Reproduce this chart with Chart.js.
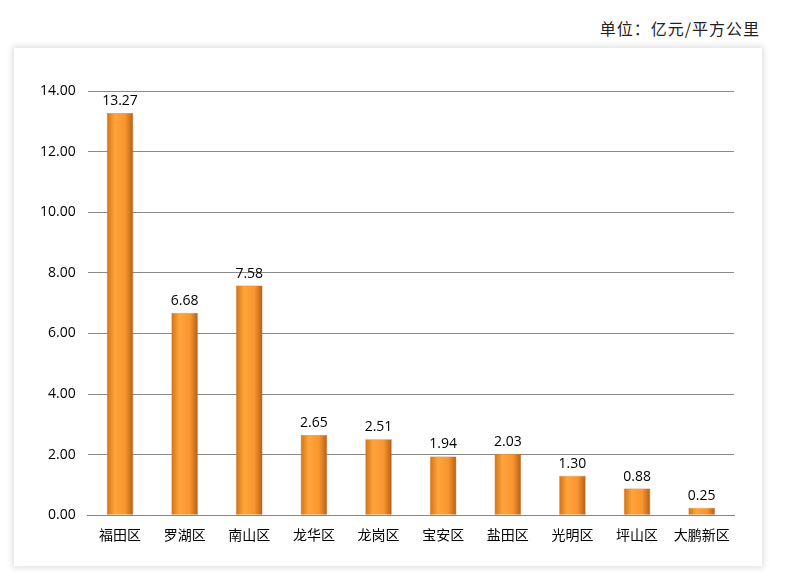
<!DOCTYPE html>
<html><head><meta charset="utf-8">
<script src="https://cdn.jsdelivr.net/npm/chart.js@4"></script>
<style>
body{margin:0;width:794px;height:579px;background:#fff;position:relative;font-family:"Noto Sans CJK SC",sans-serif}
#unit{position:absolute;right:34px;top:16px;font-size:16px;color:#222;font-family:"Noto Sans CJK SC";letter-spacing:1px}
#panel{position:absolute;left:14px;top:48px;width:748px;height:518px;background:#fff;box-shadow:0 0 6px 2px rgba(0,0,0,0.12)}
</style></head><body>
<div id="unit">单位：亿元/平方公里</div>
<div id="panel"><canvas id="c" width="748" height="518"></canvas></div>
<script>
const categories=["福田区","罗湖区","南山区","龙华区","龙岗区","宝安区","盐田区","光明区","坪山区","大鹏新区"];
const values=[13.27,6.68,7.58,2.65,2.51,1.94,2.03,1.30,0.88,0.25];
const labelPlugin={id:'lbl',afterDatasetsDraw(chart){
 const ctx=chart.ctx;const meta=chart.getDatasetMeta(0);
 ctx.save();ctx.font='14px "Open Sans", sans-serif';ctx.fillStyle='#000';ctx.textAlign='center';ctx.textBaseline='bottom';
 meta.data.forEach((b,i)=>ctx.fillText(values[i].toFixed(2),b.x,b.y-5));ctx.restore();}};
const chart=new Chart(document.getElementById('c'),{type:'bar',
 data:{labels:categories,datasets:[{data:values,backgroundColor:'#f39228',
  borderColor:'#c06a1a',borderWidth:0.5,barPercentage:0.41,categoryPercentage:1}]},
 options:{responsive:false,animation:false,
  layout:{padding:{left:14,right:28,top:43,bottom:20}},
  plugins:{legend:{display:false},tooltip:{enabled:false}},
  scales:{x:{grid:{display:false},border:{color:'#888'},ticks:{maxRotation:0,minRotation:0,color:'#000',font:{size:14,family:'"Noto Sans CJK SC"'}}},
   y:{min:0,max:14,grid:{color:'#8a8a8a',drawTicks:false},border:{display:false},
    ticks:{stepSize:2,padding:12,color:'#000',font:{size:14,family:'"Open Sans"'},callback:v=>v.toFixed(2)}}}},
 plugins:[labelPlugin]});
const meta=chart.getDatasetMeta(0);
chart.data.datasets[0].backgroundColor=meta.data.map(b=>{
 const w=b.width;const g=chart.ctx.createLinearGradient(b.x-w/2,0,b.x+w/2,0);
 g.addColorStop(0,'#d07318');g.addColorStop(0.3,'#ffa43a');g.addColorStop(0.7,'#f89530');g.addColorStop(1,'#b55e18');return g;});
chart.update('none');
</script></body></html>
